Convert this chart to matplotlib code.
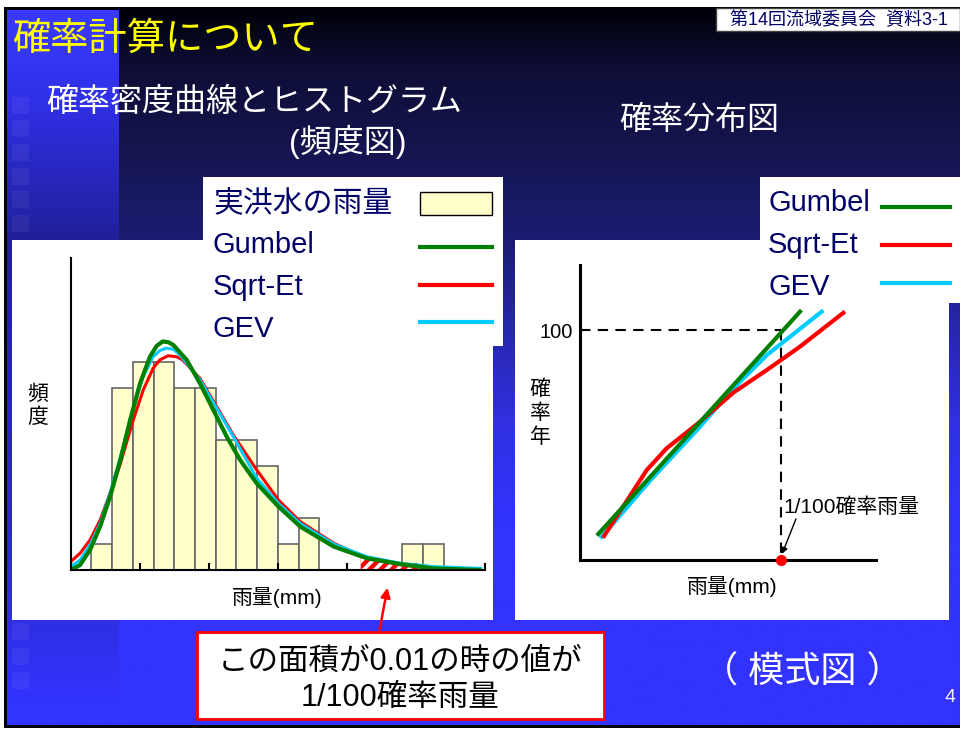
import numpy as np
import matplotlib.pyplot as plt
from matplotlib.patches import Rectangle
from matplotlib.colors import to_rgb

plt.rcParams['font.family'] = ['Liberation Sans', 'Noto Sans CJK JP']
plt.rcParams['hatch.linewidth'] = 2.5

# ---- left chart: histogram (counts per bin) and density curves ----
bin_counts = [0, 1, 7, 8, 8, 7, 7, 5, 5, 4, 1, 2, 0, 0, 0, 0, 1, 1, 0, 0]
tail_start = 14.0

gumbel_x = [0, 0.45, 0.93, 1.42, 1.9, 2.4, 2.87, 3.35, 3.83, 4.15, 4.44, 4.72, 4.96, 5.6,
            6.24, 6.89, 7.53, 8.18, 8.98, 10.03, 11.08, 12.7, 14.3, 15.9, 17.5, 19.7]
gumbel_y = [0, 0.19, 0.77, 1.67, 2.82, 4.23, 5.77, 7.18, 8.21, 8.62, 8.79, 8.76, 8.65, 8.08,
            7.18, 6.15, 5.13, 4.23, 3.33, 2.44, 1.67, 0.9, 0.45, 0.23, 0.06, 0]

sqrtet_x = [0, 0.45, 0.93, 1.42, 1.9, 2.4, 3.02, 3.5, 3.98, 4.3, 4.7, 5.12, 5.4, 6.24,
            7.05, 7.85, 8.98, 10.03, 11.08, 12.7, 14.3, 15.9, 17.5, 19.1]
sqrtet_y = [0.32, 0.64, 1.15, 1.92, 2.95, 4.1, 5.77, 6.92, 7.76, 8.08, 8.24, 8.2, 8.08, 7.37,
            6.28, 5.19, 3.85, 2.69, 1.86, 1.03, 0.45, 0.2, 0.06, 0]

gev_x = [0, 0.45, 0.93, 1.42, 1.9, 2.4, 3.02, 3.5, 3.98, 4.31, 4.6, 4.96, 5.28, 6.24,
         7.05, 7.85, 8.98, 10.03, 11.08, 12.7, 14.3, 15.9, 17.5, 19.8]
gev_y = [0.13, 0.38, 0.96, 1.79, 2.95, 4.36, 6.22, 7.44, 8.21, 8.44, 8.53, 8.49, 8.27, 7.31,
         6.22, 5.13, 3.53, 2.56, 1.79, 1.0, 0.51, 0.26, 0.13, 0.06]

# ---- right chart: probability plot (rainfall vs return period) ----
gumbel_rx = [18.3, 120, 220]
gumbel_ry = [11.3, 60.0, 108.0]
sqrtet_rx = [24, 66.7, 86.7, 120, 153.3, 186.7, 220, 263.3]
sqrtet_ry = [10.4, 39.1, 48.6, 60.1, 72.8, 82.6, 92.8, 107.5]
gev_rx = [21.7, 70, 120, 153.3, 186.7, 241.7]
gev_ry = [10.1, 34.5, 58.0, 74.6, 89.1, 108.0]
return_period = 100
rain_1_100 = 201

names = ["Gumbel", "Sqrt-Et", "GEV"]
colors = ["#008000", "#ff0000", "#00ccff"]
navy = "#000066"

fig = plt.figure(figsize=(9.6, 7.31), dpi=100)
fig.patch.set_facecolor("white")

# background axes in pixel coordinates
bg = fig.add_axes([0, 0, 1, 1])


def vgrad(stops, y0, y1, n=500):
    ys = np.linspace(y0, y1, n)
    pos = [s[0] for s in stops]
    cols = np.array([np.interp(ys, pos, [to_rgb(s[1])[i] for s in stops]) for i in range(3)]).T
    return cols[:, None, :]


bg.add_patch(Rectangle((4, 7), 956, 721, facecolor="black", lw=0, zorder=0))
bg_stops = [(9, "#000008"), (60, "#0d0d33"), (150, "#151550"), (240, "#1c1c72"),
            (320, "#2626a8"), (420, "#3030e0"), (520, "#3333ff"), (725, "#3333ff")]
bg.imshow(vgrad(bg_stops, 9, 725), extent=(7, 960, 725, 9), aspect="auto", zorder=0.2)
strip_stops = [(10, "#3a3aff"), (100, "#3030e8"), (240, "#20209a"), (620, "#2e2ee2"),
               (700, "#3333ff")]
bg.imshow(vgrad(strip_stops, 10, 700), extent=(7, 119, 700, 10), aspect="auto", zorder=0.4)
for sy in [97, 120, 144, 168, 191, 215, 623, 648, 672]:
    bg.add_patch(Rectangle((12, sy), 17, 17, facecolor="white", alpha=0.05, lw=0, zorder=0.6))

# header tag
bg.add_patch(Rectangle((716, 8), 244, 23, facecolor="white", edgecolor="#444444", lw=1))
bg.text(730, 20, "第14回流域委員会  資料3-1", color=navy, fontsize=13, va="center")

bg.text(12, 40, "確率計算について", color="#ffff00", fontsize=27.5, va="center")
bg.text(46, 103, "確率密度曲線とヒストグラム", color="white", fontsize=23, va="center")
bg.text(348, 142, "(頻度図)", color="white", fontsize=23, va="center", ha="center")
bg.text(699, 121, "確率分布図", color="white", fontsize=23, va="center", ha="center")

# white panels
bg.add_patch(Rectangle((12, 240), 481, 380, facecolor="white", lw=0))
bg.add_patch(Rectangle((515, 240), 434, 380, facecolor="white", lw=0))
bg.add_patch(Rectangle((203, 177), 300, 169, facecolor="white", lw=0))
bg.add_patch(Rectangle((760, 177), 200, 126, facecolor="white", lw=0))

# left legend
bg.text(213, 204, "実洪水の雨量", color=navy, fontsize=21.5, va="center")
bg.add_patch(Rectangle((420, 192), 72, 23, facecolor="#ffffcc", edgecolor="black", lw=1))
for name, c, ty, ly in zip(names, colors, [245, 287, 329], [247, 285, 322]):
    bg.text(213, ty, name, color=navy, fontsize=21, va="center")
    bg.plot([420, 492], [ly, ly], color=c, lw=3)

# right legend
for name, c, ty, ly in zip(names, colors, [203, 245, 287], [207, 245, 283]):
    bg.text(768, ty, name, color=navy, fontsize=21, va="center")
    bg.plot([882, 950], [ly, ly], color=c, lw=3)

# axis labels drawn on the slide
bg.text(38, 406, "頻\n度", fontsize=15, va="center", ha="center", linespacing=1.25)
bg.text(277, 598, "雨量(mm)", fontsize=15, va="center", ha="center")
bg.text(540, 413, "確\n率\n年", fontsize=15, va="center", ha="center", linespacing=1.3)
bg.text(732, 587, "雨量(mm)", fontsize=15, va="center", ha="center")

# callout box
bg.add_patch(Rectangle((197, 632), 407, 87, facecolor="white", edgecolor="#ff0000", lw=2))
bg.text(400, 662, "この面積が0.01の時の値が", fontsize=22, va="center", ha="center")
bg.text(400, 698, "1/100確率雨量", fontsize=22, va="center", ha="center")
bg.annotate("", xy=(388, 585), xytext=(379, 633),
            arrowprops=dict(arrowstyle="-|>", color="#ff0000", lw=1.8, mutation_scale=14))

bg.text(802, 673, "（ 模式図 ）", color="white", fontsize=26, va="center", ha="center")
bg.text(950, 697, "4", color="#eeeeff", fontsize=14, va="center", ha="center")

bg.set_xlim(0, 960)
bg.set_ylim(731, 0)
bg.axis("off")

# ---- left chart ----
ax = fig.add_axes([70.7 / 960, (731 - 570) / 731, (485 - 70.7) / 960, (570 - 258) / 731])
ax.set_facecolor("none")
bins = np.arange(len(bin_counts))
counts = np.array(bin_counts)
nz = counts > 0
ax.bar(bins[nz], counts[nz], width=1, align="edge", facecolor="#ffffcc",
       edgecolor="#666666", lw=1.2, zorder=1)

tx = [tail_start] + [x for x in sqrtet_x if x > tail_start]
ty = [float(np.interp(tail_start, sqrtet_x, sqrtet_y))] + [y for x, y in zip(sqrtet_x, sqrtet_y) if x > tail_start]
ax.fill_between(tx, 0, ty, facecolor="#ff0000", edgecolor="white", hatch="///", lw=0, zorder=2)

ax.plot(sqrtet_x, sqrtet_y, color=colors[1], lw=2.2, zorder=3)
ax.plot(gev_x, gev_y, color=colors[2], lw=2.2, zorder=4)
ax.plot(gumbel_x, gumbel_y, color=colors[0], lw=3, zorder=5)

ax.set_xlim(0, 20)
ax.set_ylim(0, 12)
for s in ["top", "right"]:
    ax.spines[s].set_visible(False)
for s in ["left", "bottom"]:
    ax.spines[s].set_linewidth(1.5)
    ax.spines[s].set_zorder(6)
ax.set_xticks(np.linspace(0, 20, 7))
ax.set_xticklabels([])
ax.set_yticks([])
ax.tick_params(axis="x", direction="in", length=5, width=1.5)

# ---- right chart ----
ax2 = fig.add_axes([580 / 960, (731 - 560) / 731, 296 / 960, 295 / 731])
ax2.set_facecolor("none")
ax2.plot(gev_rx, gev_ry, color=colors[2], lw=3, zorder=3)
ax2.plot(sqrtet_rx, sqrtet_ry, color=colors[1], lw=3, zorder=4)
ax2.plot(gumbel_rx, gumbel_ry, color=colors[0], lw=3, zorder=5)

ax2.plot([0, rain_1_100], [return_period, return_period], color="black", lw=1.5,
         dashes=(5, 3.5), clip_on=False)
ax2.plot([rain_1_100, rain_1_100], [return_period, 0], color="black", lw=1.5,
         dashes=(5, 3.5), clip_on=False)
ax2.plot([rain_1_100], [0], "o", color="#ff0000", ms=7, clip_on=False, zorder=6)
ax2.annotate("", xy=(rain_1_100, 1.5), xytext=(217, 19),
             arrowprops=dict(arrowstyle="-|>", color="black", lw=1, mutation_scale=9))
ax2.text(203, 23, "1/100確率雨量", fontsize=15, va="center", ha="left")

ax2.set_xlim(0, 296)
ax2.set_ylim(0, 128.3)
for s in ["top", "right"]:
    ax2.spines[s].set_visible(False)
for s in ["left", "bottom"]:
    ax2.spines[s].set_linewidth(2.2)
ax2.set_xticks([])
ax2.set_yticks([return_period])
ax2.set_yticklabels(["100"])
ax2.tick_params(axis="y", length=0, pad=5, labelsize=14.5)

fig.savefig("out.png", dpi=100)
